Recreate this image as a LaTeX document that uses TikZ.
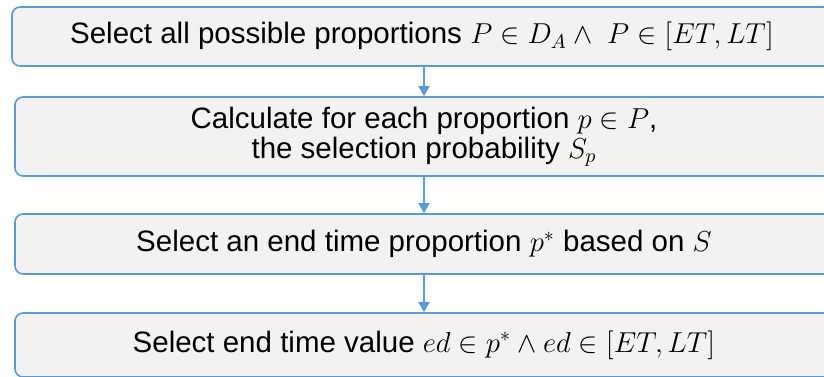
\documentclass[tikz,border=0pt]{standalone}
\usepackage{fontspec}
\setmainfont{Liberation Sans}
\usetikzlibrary{arrows.meta}
\definecolor{boxblue}{HTML}{5B9BD5}
\definecolor{boxfill}{HTML}{F2F2F2}
\tikzset{
  stepbox/.style={draw=boxblue, fill=boxfill, line width=0.8pt, rounded corners=4pt,
    align=center, inner sep=0pt, font=\fontsize{14.75}{15}\selectfont},
  arr/.style={draw=boxblue, line width=0.7pt, -{Triangle[width=5.5pt,length=5pt]}}
}
\begin{document}
\begin{tikzpicture}[x=0.5pt,y=-0.5pt]
\useasboundingbox (0,0) rectangle (824,376);
\clip (0,0) rectangle (824,376);
\node[stepbox, minimum width=410pt, minimum height=29.5pt] (b1) at (422,36.5)
  {Select all possible proportions $P \in D_A \wedge\ P \in [ET, LT]$};
\node[stepbox, minimum width=409pt, minimum height=39.5pt] (b2) at (424,136.5)
  {Calculate for each proportion $p \in P$,\\the selection probability $S_p$};
\node[stepbox, minimum width=409pt, minimum height=30pt] (b3) at (424,244)
  {Select an end time proportion $p^{*}$ based on $S$};
\node[stepbox, minimum width=409pt, minimum height=32pt] (b4) at (424,345)
  {Select end time value $ed \in p^{*} \wedge ed \in [ET, LT]$};
\coordinate (ax) at (424,0);
\draw[arr] (b1.south -| ax) -- (b2.north -| ax);
\draw[arr] (b2.south -| ax) -- (b3.north -| ax);
\draw[arr] (b3.south -| ax) -- (b4.north -| ax);
\end{tikzpicture}
\end{document}
